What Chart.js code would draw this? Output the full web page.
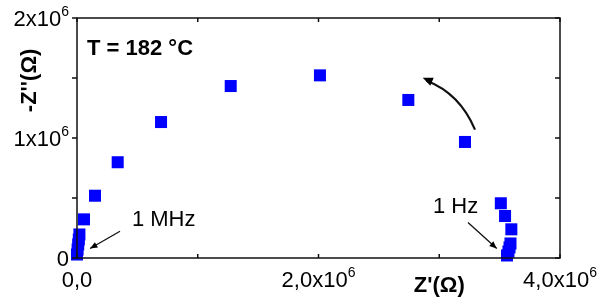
<!DOCTYPE html>
<html>
<head>
<meta charset="utf-8">
<script src="https://cdn.jsdelivr.net/npm/chart.js@4/dist/chart.umd.min.js"></script>
<style>
	html, body { margin: 0; padding: 0; background: #fff; }
	#wrap { width: 602px; height: 301px; }
</style>
</head>
<body>
<div id="wrap"><canvas id="chart"></canvas></div>
<script>
// Nyquist data, 1 MHz (origin) -> 1 Hz, units of 1e6 Ohm
const zReal = [0.0, 0.005, 0.01, 0.015, 0.02, 0.058, 0.149, 0.337, 0.696, 1.273, 2.012, 2.744, 3.213, 3.51, 3.545, 3.597, 3.59, 3.582, 3.573, 3.561];
const zImag = [0.029, 0.071, 0.113, 0.154, 0.196, 0.322, 0.519, 0.798, 1.133, 1.433, 1.522, 1.317, 0.967, 0.456, 0.35, 0.239, 0.121, 0.088, 0.054, 0.021];

const xTicks = [0, 1, 2, 3, 4];
const xTickLabels = ["0,0", "", "2,0x10^6", "", "4,0x10^6"];
const yTicks = [0, 0.5, 1, 1.5, 2];
const yTickLabels = ["0", "", "1x10^6", "", "2x10^6"];

const xTitle = "Z'(\u03A9)";
const yTitle = "-Z''(\u03A9)";
const tempLabel = "T = 182 \u00B0C";
const lowLabel = "1 MHz";
const highLabel = "1 Hz";

const SCALE = 1e6;
const FONT = "'Liberation Sans', Arial, sans-serif";

const points = zReal.map((x, i) => ({ x: x * SCALE, y: zImag[i] * SCALE }));

// draws "a^b" as base + superscript
function drawSup(ctx, text, x, y, align) {
	const parts = text.split("^");
	ctx.font = "22px " + FONT;
	const wBase = ctx.measureText(parts[0]).width;
	let wSup = 0;
	if (parts[1]) {
		ctx.font = "14px " + FONT;
		wSup = ctx.measureText(parts[1]).width;
	}
	const total = wBase + wSup;
	let left = x;
	if (align === "center") left = x - total / 2;
	if (align === "right") left = x - total;
	ctx.textAlign = "left";
	ctx.textBaseline = "alphabetic";
	ctx.font = "22px " + FONT;
	ctx.fillText(parts[0], left, y);
	if (parts[1]) {
		ctx.font = "14px " + FONT;
		ctx.fillText(parts[1], left + wBase, y - 10);
	}
}

function arrowHead(ctx, x, y, ang, len) {
	ctx.beginPath();
	ctx.moveTo(x, y);
	ctx.lineTo(x - len * Math.cos(ang - 0.4), y - len * Math.sin(ang - 0.4));
	ctx.lineTo(x - len * Math.cos(ang + 0.4), y - len * Math.sin(ang + 0.4));
	ctx.closePath();
	ctx.fill();
}

const framePlugin = {
	id: "frame",
	afterDraw(chart) {
		const ctx = chart.ctx;
		const xs = chart.scales.x, ys = chart.scales.y;
		const a = chart.chartArea;
		const px = v => xs.getPixelForValue(v * SCALE);
		const py = v => ys.getPixelForValue(v * SCALE);

		ctx.save();
		ctx.strokeStyle = "#111";
		ctx.fillStyle = "#000";
		ctx.lineWidth = 1.5;
		ctx.strokeRect(a.left, a.top, a.right - a.left, a.bottom - a.top);

		ctx.beginPath();
		xTicks.forEach(t => {
			const x = px(t);
			ctx.moveTo(x, a.bottom); ctx.lineTo(x, a.bottom - 4);
			ctx.moveTo(x, a.top); ctx.lineTo(x, a.top + 4);
		});
		yTicks.forEach(t => {
			const y = py(t);
			ctx.moveTo(a.left, y); ctx.lineTo(a.left - 5, y);
			ctx.moveTo(a.right, y); ctx.lineTo(a.right - 5, y);
		});
		ctx.stroke();

		// tick labels
		xTicks.forEach((t, i) => {
			if (xTickLabels[i]) drawSup(ctx, xTickLabels[i], px(t), a.bottom + 29, "center");
		});
		yTicks.forEach((t, i) => {
			if (yTickLabels[i]) drawSup(ctx, yTickLabels[i], a.left - 8, py(t) + 8, "right");
		});

		// axis titles
		ctx.font = "bold 22px " + FONT;
		ctx.textAlign = "center";
		ctx.textBaseline = "middle";
		ctx.fillText(xTitle, px(3), a.bottom + 28);
		ctx.save();
		ctx.translate(a.left - 47, py(1.48));
		ctx.rotate(-Math.PI / 2);
		ctx.fillText(yTitle, 0, 0);
		ctx.restore();

		// annotations
		ctx.textAlign = "left";
		ctx.fillText(tempLabel, px(0.083), py(1.746));
		ctx.font = "22px " + FONT;
		ctx.fillText(lowLabel, px(0.455), py(0.32));
		ctx.fillText(highLabel, px(2.948), py(0.425));

		// straight arrows to the end frequencies
		ctx.lineWidth = 1.3;
		[[0.356, 0.223, 0.108, 0.079], [3.238, 0.296, 3.476, 0.079]].forEach(r => {
			const x0 = px(r[0]), y0 = py(r[1]), x1 = px(r[2]), y1 = py(r[3]);
			ctx.beginPath();
			ctx.moveTo(x0, y0); ctx.lineTo(x1, y1);
			ctx.stroke();
			arrowHead(ctx, x1, y1, Math.atan2(y1 - y0, x1 - x0), 8);
		});

		// curved arrow (decreasing frequency direction)
		const cx0 = px(3.296), cy0 = py(1.07);
		const cxc = px(3.17), cyc = py(1.37);
		const cx1 = px(2.863), cy1 = py(1.502);
		ctx.lineWidth = 2.2;
		ctx.beginPath();
		ctx.moveTo(cx0, cy0);
		ctx.quadraticCurveTo(cxc, cyc, cx1 + 4, cy1 + 3);
		ctx.stroke();
		arrowHead(ctx, cx1, cy1, Math.atan2(cy1 - cyc, cx1 - cxc), 11);
		ctx.restore();
	}
};

new Chart(document.getElementById("chart"), {
	type: "scatter",
	data: {
		datasets: [{
			data: points,
			pointStyle: "rect",
			pointRadius: 8.5,
			pointHoverRadius: 8.5,
			backgroundColor: "#0000ff",
			borderColor: "#0000ff",
			borderWidth: 0,
			clip: false
		}]
	},
	options: {
		responsive: true,
		maintainAspectRatio: false,
		animation: false,
		layout: { padding: { left: 77, top: 18, right: 42, bottom: 43 } },
		plugins: { legend: { display: false }, tooltip: { enabled: false } },
		scales: {
			x: {
				type: "linear",
				display: false,
				min: 0, max: 4 * SCALE,
				ticks: { stepSize: SCALE }
			},
			y: {
				type: "linear",
				display: false,
				min: 0, max: 2 * SCALE,
				ticks: { stepSize: 0.5 * SCALE }
			}
		}
	},
	plugins: [framePlugin]
});
</script>
</body>
</html>
